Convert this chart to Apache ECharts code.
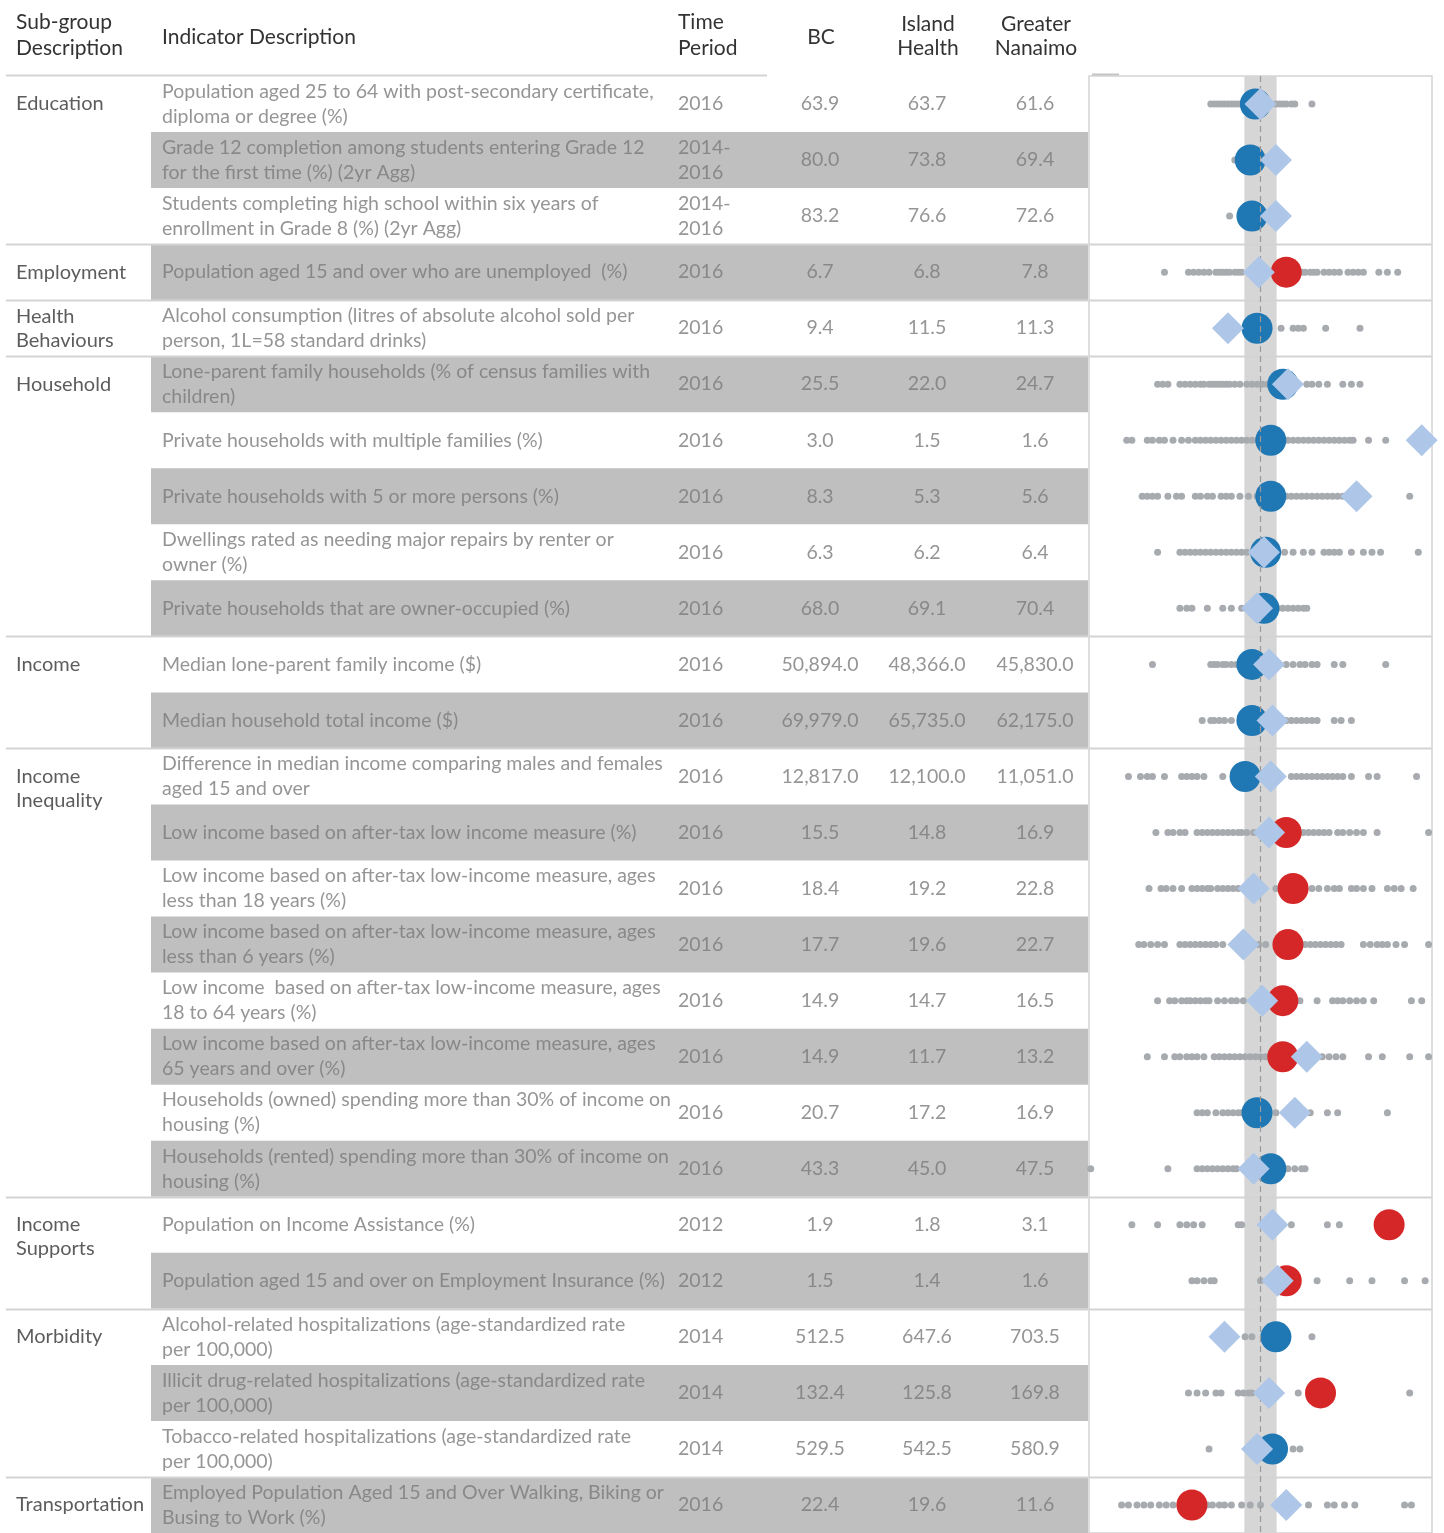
<!DOCTYPE html>
<html>
<head>
<meta charset="utf-8">
<script src="https://cdn.jsdelivr.net/npm/echarts@6/dist/echarts.min.js"></script>
<style>
  html, body { margin: 0; padding: 0; background: #fff; }
  #chart-container { width: 1444px; height: 1533px; }
</style>
</head>
<body>
<div id="chart-container"></div>
<script>
var dom = document.getElementById("chart-container");
var myChart = echarts.init(dom, null, { renderer: "canvas" });

// ---- data ----
var groupNames = ["Education", "Employment", "Health\nBehaviours", "Household", "Income",
  "Income\nInequality", "Income\nSupports", "Morbidity", "Transportation"];
var groupSizes = [3, 1, 1, 5, 2, 8, 2, 3, 1];

var indicators = [
  "Population aged 25 to 64 with post-secondary certificate,\ndiploma or degree (%)",
  "Grade 12 completion among students entering Grade 12\nfor the first time (%) (2yr Agg)",
  "Students completing high school within six years of\nenrollment in Grade 8 (%) (2yr Agg)",
  "Population aged 15 and over who are unemployed  (%)",
  "Alcohol consumption (litres of absolute alcohol sold per\nperson, 1L=58 standard drinks)",
  "Lone-parent family households (% of census families with\nchildren)",
  "Private households with multiple families (%)",
  "Private households with 5 or more persons (%)",
  "Dwellings rated as needing major repairs by renter or\nowner (%)",
  "Private households that are owner-occupied (%)",
  "Median lone-parent family income ($)",
  "Median household total income ($)",
  "Difference in median income comparing males and females\naged 15 and over",
  "Low income based on after-tax low income measure (%)",
  "Low income based on after-tax low-income measure, ages\nless than 18 years (%)",
  "Low income based on after-tax low-income measure, ages\nless than 6 years (%)",
  "Low income  based on after-tax low-income measure, ages\n18 to 64 years (%)",
  "Low income based on after-tax low-income measure, ages\n65 years and over (%)",
  "Households (owned) spending more than 30% of income on\nhousing (%)",
  "Households (rented) spending more than 30% of income on\nhousing (%)",
  "Population on Income Assistance (%)",
  "Population aged 15 and over on Employment Insurance (%)",
  "Alcohol-related hospitalizations (age-standardized rate\nper 100,000)",
  "Illicit drug-related hospitalizations (age-standardized rate\nper 100,000)",
  "Tobacco-related hospitalizations (age-standardized rate\nper 100,000)",
  "Employed Population Aged 15 and Over Walking, Biking or\nBusing to Work (%)"
];

var periods = ["2016", "2014-\n2016", "2014-\n2016", "2016", "2016", "2016", "2016", "2016", "2016", "2016",
  "2016", "2016", "2016", "2016", "2016", "2016", "2016", "2016", "2016", "2016",
  "2012", "2012", "2014", "2014", "2014", "2016"];

var bcValues = [63.9, 80.0, 83.2, 6.7, 9.4, 25.5, 3.0, 8.3, 6.3, 68.0, 50894.0, 69979.0, 12817.0,
  15.5, 18.4, 17.7, 14.9, 14.9, 20.7, 43.3, 1.9, 1.5, 512.5, 132.4, 529.5, 22.4];
var islandValues = [63.7, 73.8, 76.6, 6.8, 11.5, 22.0, 1.5, 5.3, 6.2, 69.1, 48366.0, 65735.0, 12100.0,
  14.8, 19.2, 19.6, 14.7, 11.7, 17.2, 45.0, 1.8, 1.4, 647.6, 125.8, 542.5, 19.6];
var nanaimoValues = [61.6, 69.4, 72.6, 7.8, 11.3, 24.7, 1.6, 5.6, 6.4, 70.4, 45830.0, 62175.0, 11051.0,
  16.9, 22.8, 22.7, 16.5, 13.2, 16.9, 47.5, 3.1, 1.6, 703.5, 169.8, 580.9, 11.6];

// relative position of each geography on the comparison strip (BC = 0)
var islandPos = [0, 9, 9, -1, -19, 16, 94, 56, 2, -2, 5, 7, 6, 5, -4, -10, 1, 27, 20, -4, 7, 10, -21, 5, -2, 15];
var nanaimoPos = [-3, -6, -5, 15, -2, 13, 6, 6, 3, 2, -5, -5, -9, 15, 19, 16, 13, 13, -2, 6, 75, 15, 9, 35, 7, -40];
var nanaimoWorse = [0, 0, 0, 1, 0, 0, 0, 0, 0, 0, 0, 0, 0, 1, 1, 1, 1, 1, 0, 0, 1, 1, 0, 1, 0, 1];

// other local health areas
var otherAreas = [
  [-29, -27, -25, -23, -21, -19, -17, -15, -13, -11, 9, 11, 13, 15, 18, 20, 30],
  [-15],
  [-18],
  [-56, -42, -39, -36, -33, -30, -26, -24, -22, -20, -18, -15, -13, -11, 24, 26, 29, 31, 33, 37, 40, 43, 46, 51, 54, 57, 60, 69, 74, 80],
  [12, 19, 22, 25, 38, 58],
  [-60, -57, -54, -47, -44, -41, -38, -35, -33, -30, -28, -26, -24, -22, -20, -18, -15, -12, -8, -5, -2, 1, 4, 27, 30, 34, 39, 48, 53, 58],
  [-78, -75, -66, -63, -59, -56, -51, -46, -42, -38, -35, -32, -29, -26, -23, -20, -17, -14, -11, -8, -5, -2, 16, 19, 22, 25, 28, 31, 34, 37, 40, 43, 46, 49, 52, 54, 63, 73],
  [-69, -66, -63, -60, -54, -49, -46, -38, -35, -31, -28, -23, -20, -17, -12, -7, -2, 15, 18, 21, 24, 27, 30, 33, 36, 39, 42, 45, 48, 87],
  [-60, -47, -44, -41, -38, -35, -32, -29, -26, -23, -20, -17, -14, -11, -8, -4, -1, 14, 19, 25, 30, 37, 40, 43, 46, 53, 60, 65, 70, 92],
  [-47, -43, -40, -31, -22, -17, -11, 10, 13, 16, 19, 22, 25, 27],
  [-63, -29, -27, -25, -22, -20, -17, -14, 15, 19, 23, 26, 30, 33, 43, 48, 73],
  [-34, -29, -27, -24, -21, -17, 15, 18, 21, 24, 27, 30, 33, 43, 47, 53],
  [-77, -70, -66, -63, -56, -46, -43, -40, -37, -33, -22, 18, 21, 24, 27, 30, 33, 36, 39, 42, 45, 48, 53, 63, 68, 91],
  [-61, -54, -51, -47, -44, -37, -34, -31, -28, -25, -22, -19, -16, -13, -11, -8, -4, 25, 28, 31, 34, 37, 40, 45, 48, 52, 56, 60, 68, 98],
  [-65, -58, -55, -51, -46, -40, -37, -34, -31, -29, -25, -22, -19, -16, -13, 9, 30, 34, 39, 43, 46, 53, 56, 60, 65, 74, 78, 82, 89],
  [-71, -68, -64, -60, -56, -47, -44, -41, -38, -35, -32, -29, -26, -22, -1, 3, 26, 29, 32, 35, 38, 41, 44, 47, 60, 64, 68, 71, 74, 79, 84, 98],
  [-60, -53, -50, -46, -43, -41, -38, -35, -32, -30, -25, -21, -17, -14, -10, 23, 33, 42, 45, 48, 52, 56, 60, 66, 88, 94],
  [-66, -56, -50, -47, -43, -40, -37, -33, -27, -24, -21, -18, -15, -12, -9, -6, -3, 0, 3, 36, 40, 44, 48, 63, 71, 87, 98],
  [-37, -34, -31, -26, -22, -19, -16, -13, -11, 9, 29, 39, 45, 74],
  [-99, -54, -37, -34, -31, -28, -25, -22, -19, -16, -14, 16, 20, 24, 26],
  [-75, -60, -47, -43, -39, -34, -13, -11, 18, 39, 46],
  [-40, -37, -33, -29, -27, 0, 33, 52, 65, 84, 96],
  [-9, -5, 30],
  [-42, -37, -32, -26, -23, -13, -10, -7, -5, 22, 87],
  [-30, 19, 23],
  [-81, -77, -72, -68, -64, -59, -55, -51, -31, -28, -24, -21, -17, -11, -6, 0, 28, 39, 43, 49, 55, 84, 88]
];

// ---- layout ----
var ROW_H = 56.2;
var TOP = 76;
var N = indicators.length;
var FONT = "Lato";
var TXT = "#7b7b7b";
var DARK = "#333333";
var BODY_SIZE = 19.5;
var HEAD_FONT = "21px " + FONT;
var COL = { group: 16, ind: 162, period: 678, bc: 820, ih: 927, gn: 1035, bandL: 151, tableR: 1088 };

var rows = indicators.map(function (_, i) { return i; });
var groupStarts = [];
var acc = 0;
groupSizes.forEach(function (s) { groupStarts.push(acc); acc += s; });

function fmt(v) {
  return v.toLocaleString("en-US", { minimumFractionDigits: 1, maximumFractionDigits: 1 });
}

function textSeries(col, texts, align) {
  return {
    type: "scatter", xAxisIndex: 0, yAxisIndex: 0, symbolSize: 0, silent: true, z: 5,
    data: texts.map(function (t, i) { return { value: [col, i], name: t }; }),
    label: {
      show: true, position: "inside", align: align, verticalAlign: "middle",
      formatter: function (p) { return p.name; },
      color: TXT, fontFamily: FONT, fontSize: BODY_SIZE, lineHeight: 25
    }
  };
}

var groupSeries = {
  type: "scatter", xAxisIndex: 0, yAxisIndex: 0, symbolSize: 0, silent: true, z: 5,
  data: groupNames.map(function (g, k) {
    var multi = groupSizes[k] > 1;
    return {
      value: [COL.group, groupStarts[k]], name: g,
      label: multi ? { verticalAlign: "top", offset: [0, -12] } : { verticalAlign: "middle" }
    };
  }),
  label: {
    show: true, position: "inside", align: "left",
    formatter: function (p) { return p.name; },
    color: DARK, fontFamily: FONT, fontSize: 20, lineHeight: 24
  }
};

var stripeSeries = {
  type: "custom", xAxisIndex: 0, yAxisIndex: 0, silent: true, z: 1,
  data: rows.filter(function (i) { return i % 2 === 1; }).map(function (i) { return [COL.bandL, i]; }),
  renderItem: function (params, api) {
    var p0 = api.coord([COL.bandL, api.value(1)]);
    var p1 = api.coord([COL.tableR, api.value(1)]);
    var h = api.size([0, 1])[1];
    return { type: "rect", shape: { x: p0[0], y: p0[1] - h / 2, width: p1[0] - p0[0], height: h }, style: { fill: "#bfbfbf" } };
  }
};

function separatorSeries(xi, x0, x1) {
  return {
    type: "custom", xAxisIndex: xi, yAxisIndex: xi, silent: true, z: 2,
    data: groupStarts.slice(1).map(function (r) { return [x0, r]; }),
    renderItem: function (params, api) {
      var p0 = api.coord([x0, api.value(1)]);
      var p1 = api.coord([x1, api.value(1)]);
      var h = api.size([0, 1])[1];
      var y = Math.round(p0[1] - h / 2) + 0.5;
      return { type: "line", shape: { x1: p0[0], y1: y, x2: p1[0], y2: y }, style: { stroke: "#d3d3d3", lineWidth: 2 } };
    }
  };
}

var dotData = [];
otherAreas.forEach(function (arr, i) { arr.forEach(function (v) { dotData.push([v, i]); }); });

var option = {
  animation: false,
  grid: [
    { left: 0, top: TOP, width: COL.tableR, height: ROW_H * N },
    { left: 1089, top: TOP, width: 343, height: ROW_H * N, show: true, borderColor: "#d3d3d3", borderWidth: 1.5 }
  ],
  xAxis: [
    { gridIndex: 0, type: "value", min: 0, max: COL.tableR, show: false },
    { gridIndex: 1, type: "value", min: -100, max: 100, show: false }
  ],
  yAxis: [
    { gridIndex: 0, type: "category", data: rows, inverse: true, show: false },
    { gridIndex: 1, type: "category", data: rows, inverse: true, show: false }
  ],
  graphic: [
    { type: "text", x: 16, y: 35, style: { text: "Sub-group\nDescription", font: HEAD_FONT, fill: DARK, lineHeight: 26, verticalAlign: "middle" } },
    { type: "text", x: 162, y: 37, style: { text: "Indicator Description", font: HEAD_FONT, fill: DARK, verticalAlign: "middle" } },
    { type: "text", x: 678, y: 35, style: { text: "Time\nPeriod", font: HEAD_FONT, fill: DARK, lineHeight: 26, verticalAlign: "middle" } },
    { type: "text", x: 821, y: 37, style: { text: "BC", font: HEAD_FONT, fill: DARK, align: "center", verticalAlign: "middle" } },
    { type: "text", x: 928, y: 36, style: { text: "Island\nHealth", font: HEAD_FONT, fill: DARK, align: "center", verticalAlign: "middle", lineHeight: 24 } },
    { type: "text", x: 1036, y: 36, style: { text: "Greater\nNanaimo", font: HEAD_FONT, fill: DARK, align: "center", verticalAlign: "middle", lineHeight: 24 } },
    { type: "line", shape: { x1: 6, y1: 75.5, x2: 767, y2: 75.5 }, style: { stroke: "#d3d3d3", lineWidth: 2 } },
    { type: "line", shape: { x1: 1092, y1: 74.5, x2: 1119, y2: 74.5 }, style: { stroke: "#c4c4c4", lineWidth: 2 } }
  ],
  series: [
    stripeSeries,
    separatorSeries(0, 6, COL.tableR),
    separatorSeries(1, -100, 100),
    groupSeries,
    textSeries(COL.ind, indicators, "left"),
    textSeries(COL.period, periods, "left"),
    textSeries(COL.bc, bcValues.map(fmt), "center"),
    textSeries(COL.ih, islandValues.map(fmt), "center"),
    textSeries(COL.gn, nanaimoValues.map(fmt), "center"),
    {
      name: "band", type: "scatter", xAxisIndex: 1, yAxisIndex: 1, data: [], z: 1, silent: true,
      markArea: { silent: true, itemStyle: { color: "#d6d6d6" }, data: [[{ xAxis: -9.4 }, { xAxis: 9.4 }]] }
    },
    {
      name: "Other areas", type: "scatter", xAxisIndex: 1, yAxisIndex: 1, z: 3, silent: true,
      symbolSize: 7, itemStyle: { color: "#a7abaf", opacity: 1 }, data: dotData
    },
    {
      name: "Greater Nanaimo", type: "scatter", xAxisIndex: 1, yAxisIndex: 1, z: 4, silent: true,
      symbolSize: 31,
      data: nanaimoPos.map(function (v, i) {
        return { value: [v, i], itemStyle: { color: nanaimoWorse[i] ? "#d62728" : "#1f77b4", opacity: 1 } };
      })
    },
    {
      name: "Island Health", type: "scatter", xAxisIndex: 1, yAxisIndex: 1, z: 5, silent: true,
      symbol: "diamond", symbolSize: 32, itemStyle: { color: "#aec7e8", opacity: 1 },
      data: islandPos.map(function (v, i) { return [v, i]; })
    },
    {
      name: "BC", type: "scatter", xAxisIndex: 1, yAxisIndex: 1, data: [], z: 6, silent: true,
      markLine: {
        silent: true, symbol: "none", label: { show: false },
        lineStyle: { color: "#9a9a9a", type: [6, 4], width: 1.2 },
        data: [{ xAxis: 0 }]
      }
    }
  ]
};

myChart.setOption(option);
window.addEventListener("resize", myChart.resize);
</script>
</body>
</html>
